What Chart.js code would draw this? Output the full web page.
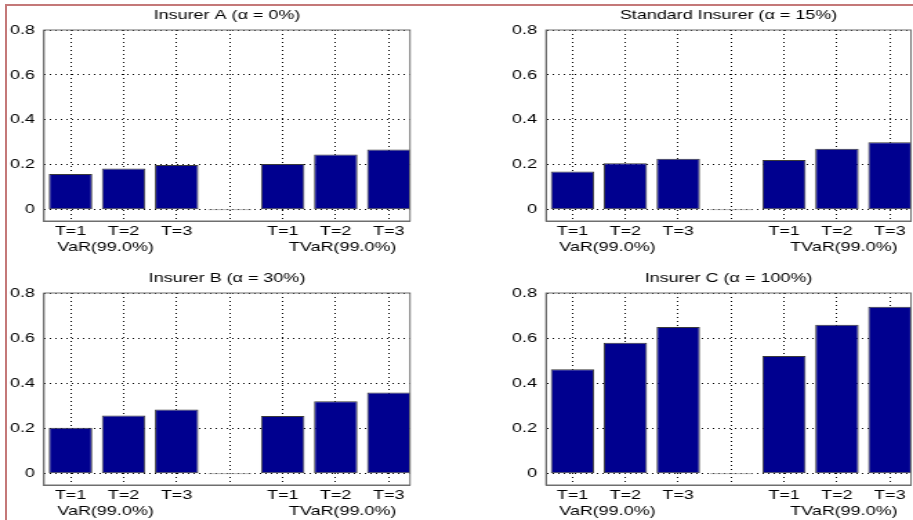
<!DOCTYPE html>
<html>
<head>
<meta charset="utf-8">
<script src="https://cdn.jsdelivr.net/npm/chart.js@4.4.1/dist/chart.umd.min.js"></script>
<style>
    html, body { margin: 0; padding: 0; background: #fff; }
    #fig { position: relative; width: 913px; height: 520px; overflow: hidden; }
    #frame { position: absolute; left: 5px; top: 4px; width: 950px; height: 560px;
             border-left: 2px solid #c47878; border-top: 2px solid #c47878; }
    canvas { position: absolute; }
</style>
</head>
<body>
<div id="fig">
    <div id="frame"></div>
    <canvas id="c0"></canvas>
    <canvas id="c1"></canvas>
    <canvas id="c2"></canvas>
    <canvas id="c3"></canvas>
</div>
<script>
// data
var tickLabels = ['T=1', 'T=2', 'T=3', '', 'T=1', 'T=2', 'T=3'];
var groupLabels = ['VaR(99.0%)', 'TVaR(99.0%)'];
var yTicks = [0, 0.2, 0.4, 0.6, 0.8];
var titles = ['Insurer A (\u03b1 = 0%)', 'Standard Insurer (\u03b1 = 15%)',
              'Insurer B (\u03b1 = 30%)', 'Insurer C (\u03b1 = 100%)'];
var insurerA        = [0.159, 0.184, 0.199, 0, 0.204, 0.246, 0.268];
var standardInsurer = [0.170, 0.207, 0.227, 0, 0.221, 0.271, 0.301];
var insurerB        = [0.204, 0.258, 0.284, 0, 0.255, 0.321, 0.360];
var insurerC        = [0.462, 0.580, 0.650, 0, 0.521, 0.659, 0.739];

// layout (css px); the original figure is stretched sideways, so is ours
var STRETCH = 1.38;
var Y_AXIS_W = 30;
var GROUP_LABEL_AT = [1.66, 6.13];
var panels = [
    {id: 'c0', values: insurerA,        title: titles[0], x: 0,   y: 0,   w: 456, h: 260, area: {l: 44, r: 410, t: 30, b: 221}},
    {id: 'c1', values: standardInsurer, title: titles[1], x: 456, y: 0,   w: 457, h: 260, area: {l: 90, r: 455, t: 30, b: 221}},
    {id: 'c2', values: insurerB,        title: titles[2], x: 0,   y: 260, w: 456, h: 260, area: {l: 44, r: 410, t: 33, b: 225}},
    {id: 'c3', values: insurerC,        title: titles[3], x: 456, y: 260, w: 457, h: 260, area: {l: 90, r: 455, t: 33, b: 225}}
];

var FONT = '"Liberation Sans", Arial, Helvetica, sans-serif';
Chart.defaults.font.family = FONT;
Chart.defaults.font.size = 13;
Chart.defaults.color = '#000';

// box round the axes, title and the two group captions
var panelDecor = {
    id: 'panelDecor',
    afterDraw: function(chart, args, opts) {
        var ctx = chart.ctx, a = chart.chartArea, xs = chart.scales.x;
        ctx.save();
        ctx.strokeStyle = '#6e6e6e';
        ctx.lineWidth = 1;
        ctx.strokeRect(a.left, a.top, a.right - a.left, a.bottom - a.top);
        ctx.fillStyle = '#000';
        ctx.font = '13px ' + FONT;
        ctx.textAlign = 'center';
        ctx.textBaseline = 'middle';
        ctx.fillText(opts.title, (a.left + a.right) / 2, a.top - 15);
        groupLabels.forEach(function(label, i) {
            ctx.fillText(label, xs.getPixelForValue(GROUP_LABEL_AT[i]), a.bottom + 26.5);
        });
        ctx.restore();
    }
};

panels.forEach(function(p) {
    var canvas = document.getElementById(p.id);
    var iw = Math.round(p.w / STRETCH);
    var sx = p.w / iw;
    canvas.width = iw;
    canvas.height = p.h;
    canvas.style.left = p.x + 'px';
    canvas.style.top = p.y + 'px';
    canvas.style.width = p.w + 'px';
    canvas.style.height = p.h + 'px';

    var xAxisH = p.h - p.area.b;

    new Chart(canvas, {
        type: 'bar',
        data: {
            datasets: [{
                data: p.values.map(function(v, i) { return {x: i + 1, y: v}; }),
                backgroundColor: '#00008f',
                borderColor: function(c) {
                    return c.parsed && c.parsed.y === 0 ? '#8a8a8a' : '#3a3a3a';
                },
                borderWidth: 1,
                borderSkipped: false,
                minBarLength: 1,
                barPercentage: 0.82,
                categoryPercentage: 1
            }]
        },
        options: {
            responsive: false,
            devicePixelRatio: 1,
            animation: false,
            events: [],
            layout: {
                padding: {
                    left: p.area.l / sx - Y_AXIS_W,
                    right: (p.w - p.area.r) / sx,
                    top: p.area.t,
                    bottom: 0
                }
            },
            plugins: {
                legend: { display: false },
                tooltip: { enabled: false },
                panelDecor: { title: p.title }
            },
            scales: {
                x: {
                    type: 'linear',
                    bounds: 'data',
                    offset: false,
                    min: 0.5,
                    max: 7.4,
                    afterBuildTicks: function(s) {
                        s.ticks = tickLabels.map(function(t, i) { return {value: i + 1}; });
                    },
                    afterFit: function(s) { s.height = xAxisH; },
                    ticks: {
                        autoSkip: false,
                        maxRotation: 0,
                        padding: 3,
                        callback: function(v, i) { return tickLabels[i]; }
                    },
                    grid: { color: '#000', lineWidth: 1, drawTicks: false, offset: false },
                    border: { color: '#6e6e6e', dash: [1, 3] }
                },
                y: {
                    type: 'linear',
                    bounds: 'data',
                    min: -0.05,
                    max: 0.8,
                    afterBuildTicks: function(s) {
                        s.ticks = yTicks.map(function(v) { return {value: v}; });
                    },
                    afterFit: function(s) { s.width = Y_AXIS_W; },
                    ticks: {
                        padding: 9 / sx,
                        callback: function(v) { return String(Math.round(v * 10) / 10); }
                    },
                    grid: { color: '#000', lineWidth: 1, drawTicks: false },
                    border: { color: '#6e6e6e', dash: [1, 3] }
                }
            }
        },
        plugins: [panelDecor]
    });
});
</script>
</body>
</html>
